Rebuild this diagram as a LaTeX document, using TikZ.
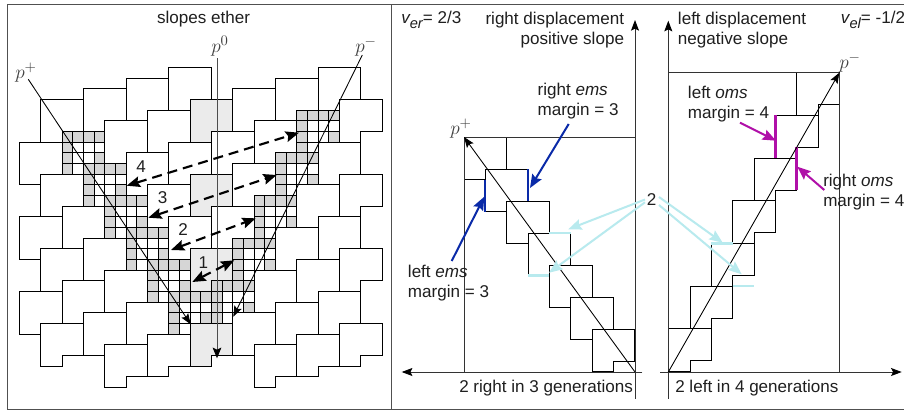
\documentclass[tikz,border=0pt]{standalone}
\usepackage{fontspec}
\setmainfont{Liberation Sans}
\usetikzlibrary{arrows.meta}
\definecolor{gridgrey}{HTML}{D6D6D6}
\definecolor{tilegrey}{HTML}{EBEBEB}
\definecolor{emsblue}{HTML}{0A2AA8}
\definecolor{omsmag}{HTML}{B010A8}
\definecolor{palecyan}{HTML}{B8EAEE}
\definecolor{framegrey}{HTML}{505050}
\newcommand{\tileshape}[2]{(#1,#2) -- ++(4,0) -- ++(0,-3) -- ++(-2,0) -- ++(0,-1) -- ++(-2,0) -- cycle}
\newcommand{\gridtile}[2]{%
  \fill[gridgrey] (#1,#2) -- ++(4,0) -- ++(0,-1) -- ++(-3,0) -- ++(0,-3) -- ++(-1,0) -- cycle;
  \fill[gridgrey] (#1,#2) ++(3,-2) rectangle ++(1,-1);
  \draw[celline] (#1,#2) ++(1,0) -- ++(0,-4);
  \draw[celline] (#1,#2) ++(2,0) -- ++(0,-3);
  \draw[celline] (#1,#2) ++(3,0) -- ++(0,-3);
  \draw[celline] (#1,#2) ++(0,-1) -- ++(4,0);
  \draw[celline] (#1,#2) ++(0,-2) -- ++(4,0);
  \draw[celline] (#1,#2) ++(0,-3) -- ++(4,0);
}
\newcommand{\subtxt}[1]{\raisebox{-0.3em}{\fontsize{11}{12}\selectfont #1}}
\tikzset{
  tileline/.style={draw=black,line width=0.75pt,line join=miter},
  celline/.style={draw=black,line width=0.75pt},
  framerule/.style={draw=framegrey,line width=1pt},
  axisline/.style={draw=black!80,line width=0.7pt},
  axisarrow/.style={axisline,-{Stealth[length=8pt,width=6pt,inset=1.5pt,color=black]}},
  thinarrow/.style={draw=black,line width=0.65pt,-{Stealth[length=8pt,width=6pt,inset=1.5pt]}},
  p0arrow/.style={draw=black!70,line width=0.75pt,-{Stealth[length=8pt,width=6.5pt,inset=1.5pt,color=black]}},
  dasharrow/.style={draw=black,line width=1.6pt,dash pattern=on 7.5pt off 4.5pt,
    {Stealth[length=10pt,width=8pt,inset=1.5pt]}-{Stealth[length=10pt,width=8pt,inset=1.5pt]}},
  emsarrow/.style={draw=emsblue,line width=1.5pt,-{Stealth[length=10pt,width=8pt,inset=1.5pt]}},
  omsarrow/.style={draw=omsmag,line width=1.5pt,-{Stealth[length=10pt,width=8pt,inset=1.5pt]}},
  cyanarrow/.style={draw=palecyan,line width=1.5pt,-{Stealth[length=10pt,width=8pt,inset=1.5pt]}},
  emsbar/.style={draw=emsblue,line width=1.5pt},
  omsbar/.style={draw=omsmag,line width=1.8pt},
  cyanbar/.style={draw=palecyan,line width=2pt},
  lab/.style={font=\fontsize{12.8}{15}\selectfont,text=black!88,inner sep=0pt,anchor=base west},
  labtwo/.style={font=\fontsize{12.8}{15}\selectfont,text=black!88,inner sep=0pt,anchor=north west,align=left},
  labtworight/.style={font=\fontsize{12.8}{15}\selectfont,text=black!88,inner sep=0pt,anchor=north east,align=right},
  num/.style={font=\fontsize{12.8}{15}\selectfont,text=black!88,inner sep=0pt,anchor=center},
  mathlab/.style={font=\fontsize{15}{17}\selectfont,text=black!75,inner sep=0pt,anchor=center},
}
\begin{document}
\begin{tikzpicture}[x=0.75pt,y=-0.75pt]
\useasboundingbox (0,0) rectangle (904,412);
\clip (0,0) rectangle (904,412);
\fill[white] (0,0) rectangle (904,412);

% ---- left panel: lattice of tiles
\begin{scope}[shift={(40.67,99.33)},x=8pt,y=8pt]
  \foreach \x/\y in {14/0,14/-7,14/-14,14/-21}{\fill[tilegrey] \tileshape{\x}{\y};}
  \foreach \x/\y in {2/-3,4/-6,6/-9,8/-12,10/-15,12/-18,16/-17,18/-13,20/-9,22/-5,24/-1}{\gridtile{\x}{\y}}
  \foreach \x/\y in {
    0/0,4/1,8/2,12/3,
    -2/-4,2/-3,6/-2,10/-1,14/0,18/1,22/2,26/3,
    0/-7,4/-6,8/-5,12/-4,16/-3,20/-2,24/-1,28/0,
    -2/-11,2/-10,6/-9,10/-8,14/-7,18/-6,22/-5,26/-4,
    0/-14,4/-13,8/-12,12/-11,16/-10,20/-9,24/-8,28/-7,
    -2/-18,2/-17,6/-16,10/-15,14/-14,18/-13,22/-12,26/-11,
    0/-21,4/-20,8/-19,12/-18,16/-17,20/-16,24/-15,28/-14,
    6/-23,10/-22,14/-21,18/-20,22/-19,26/-18,
    20/-23,24/-22,28/-21}{\draw[tileline] \tileshape{\x}{\y};}
\end{scope}

% ---- frame
\draw[framerule] (904,4.7) -- (7.5,4.7) -- (7.5,409.3) -- (904,409.3);
\draw[framerule] (391.7,4.7) -- (391.7,409.3);

% ---- left panel: speed lines
\coordinate (pplusfree) at (28.3,79.3);
\coordinate (pplustip) at (190.7,324.3);
\coordinate (pminusfree) at (362.3,55);
\coordinate (pminustip) at (233.3,316.7);
\coordinate (pzerofree) at (217,58.3);
\coordinate (pzerotip) at (217,358.3);
\draw[thinarrow] (pplusfree) -- (pplustip);
\draw[thinarrow] (pminusfree) -- (pminustip);
\draw[p0arrow] (pzerofree) -- (pzerotip);

% ---- left panel: dashed arrows
\coordinate (d4a) at (126.7,185.7); \coordinate (d4b) at (299,132.7);
\coordinate (d3a) at (148.3,217.7); \coordinate (d3b) at (276.7,175);
\coordinate (d2a) at (171,250);     \coordinate (d2b) at (255.7,218.3);
\coordinate (d1a) at (192.3,282);   \coordinate (d1b) at (234.3,260.3);
\draw[dasharrow] (d4a) -- (d4b);
\draw[dasharrow] (d3a) -- (d3b);
\draw[dasharrow] (d2a) -- (d2b);
\draw[dasharrow] (d1a) -- (d1b);
\node[num] (n4) at (141,167) {4};
\node[num] (n3) at (162.5,198) {3};
\node[num] (n2) at (183,230) {2};
\node[num] (n1) at (203.3,263) {1};

\node[lab,anchor=base] (title) at (203.5,23) {slopes ether};
\node[mathlab] (lpp) at (26,73) {$p^+$};
\node[mathlab] (lp0) at (220,46) {$p^0$};
\node[mathlab] (lpm) at (366,47) {$p^-$};

% ---- middle panel
\begin{scope}
\clip (464,137) rectangle (635,372);
\begin{scope}[shift={(464,137)},x=8pt,y=8pt]
  \foreach \x/\y in {0/0,2/-3,4/-6,6/-9,8/-12,10/-15,12/-18,14/-21}{\draw[tileline] \tileshape{\x}{\y};}
\end{scope}
\end{scope}
\begin{scope}[shift={(464,137)},x=8pt,y=8pt]
  \draw[emsbar] (2,-4) -- (2,-7);
  \draw[emsbar] (6,-3) -- (6,-6);
  \draw[cyanbar] (8,-9) -- (10,-9);
  \draw[cyanbar] (6,-13) -- (8,-13);
\end{scope}
\draw[axisline] (464,137) -- (464,372) (464,137) -- (635,137);
\coordinate (mvbot) at (635,398.7); \coordinate (mvtop) at (635,20);
\coordinate (mhr) at (642.3,372);   \coordinate (mhl) at (401.7,372);
\draw[axisarrow] (mvbot) -- (mvtop);
\draw[axisarrow] (mhr) -- (mhl);
\coordinate (mdfree) at (635,372); \coordinate (mdtip) at (464,137);
\draw[thinarrow] (mdfree) -- (mdtip);

\node[lab] (ver) at (401,23.5) {{\itshape v\subtxt{er}}= 2/3};
\node[labtworight] (rdisp) at (624.3,11.5) {right displacement\\positive slope};
\node[labtwo] (rems) at (537.3,82.5) {right {\itshape ems}\\margin = 3};
\node[mathlab] (mpp) at (461,129) {$p^+$};
\node[labtwo] (lems) at (407.7,264.5) {left {\itshape ems}\\margin = 3};
\node[lab] (rgen) at (459,392.7) {2 right in 3 generations};

\coordinate (a1s) at (568.7,124); \coordinate (a1t) at (530,188);
\coordinate (a2s) at (451.7,261); \coordinate (a2t) at (484.3,196.7);
\draw[emsarrow] (a1s) -- (a1t);
\draw[emsarrow] (a2s) -- (a2t);

% ---- right panel
\begin{scope}[shift={(796.67,72.67)},x=8pt,y=8pt]
  \foreach \x/\y in {0/0,-2/-4,-4/-8,-6/-12,-8/-16,-10/-20,-12/-24}{\draw[tileline] \tileshape{\x}{\y};}
  \draw[omsbar] (-2,-4) -- (-2,-8);
  \draw[omsbar] (0,-7) -- (0,-11);
  \draw[cyanbar] (-8,-16) -- (-6,-16);
  \draw[cyanbar] (-6,-20) -- (-4,-20);
\end{scope}
\draw[axisline] (668.3,72.7) -- (839.3,72.7) (839.3,72.7) -- (839.3,372);
\coordinate (rvbot) at (668.3,398.7); \coordinate (rvtop) at (668.3,20.7);
\coordinate (rhl) at (660,372);       \coordinate (rhr) at (901.7,372);
\draw[axisarrow] (rvbot) -- (rvtop);
\draw[axisarrow] (rhl) -- (rhr);
\coordinate (rdfree) at (668.3,372); \coordinate (rdtip) at (839.3,72.7);
\draw[thinarrow] (rdfree) -- (rdtip);

\node[labtwo] (ldisp) at (677.7,11.5) {left displacement\\negative slope};
\node[lab] (vel) at (840.7,23.5) {{\itshape v\subtxt{el}}= -1/2};
\node[mathlab] (rpm) at (850,63) {$p^-$};
\node[labtwo] (loms) at (687.7,86) {left {\itshape oms}\\margin = 4};
\node[labtwo] (roms) at (823,173.5) {right {\itshape oms}\\margin = 4};
\node[lab] (lgen) at (675,392) {2 left in 4 generations};

\coordinate (a3s) at (740,122.7); \coordinate (a3t) at (776,140.7);
\coordinate (a4s) at (824.3,190); \coordinate (a4t) at (797.3,166.7);
\draw[omsarrow] (a3s) -- (a3t);
\draw[omsarrow] (a4s) -- (a4t);

% ---- cyan arrows from the central 2
\node[num] (two) at (651.7,200) {2};
\coordinate (c1s) at (645,199.5); \coordinate (c1t) at (568.3,229.3);
\coordinate (c2s) at (645,202.3); \coordinate (c2t) at (549,272.7);
\coordinate (c3s) at (659,197);   \coordinate (c3t) at (722.7,242.7);
\coordinate (c4s) at (659,205);   \coordinate (c4t) at (741.7,274.3);
\draw[cyanarrow] (c1s) -- (c1t);
\draw[cyanarrow] (c2s) -- (c2t);
\draw[cyanarrow] (c3s) -- (c3t);
\draw[cyanarrow] (c4s) -- (c4t);
\end{tikzpicture}
\end{document}
